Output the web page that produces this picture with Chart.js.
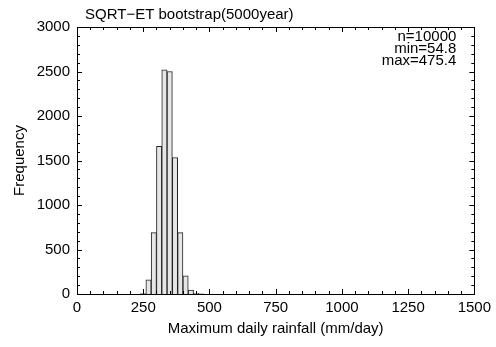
<!DOCTYPE html>
<html>
<head>
<meta charset="utf-8">
<script src="https://cdn.jsdelivr.net/npm/chart.js@4.4.1/dist/chart.umd.min.js"></script>
<style>
  html, body { margin: 0; padding: 0; background: #fff; }
  #wrap { width: 496px; height: 347px; }
</style>
</head>
<body>
<div id="wrap"><canvas id="histChart" width="496" height="347"></canvas></div>
<script>
// histogram bins (left edges, mm/day) and counts
const binStarts = [240, 260, 280, 300, 320, 340, 360, 380, 400, 420, 440, 460];
const binCounts = [5, 160, 690, 1660, 2520, 2500, 1534, 690, 205, 45, 8, 2];
const binWidth = 20;

const xTicks = [0, 250, 500, 750, 1000, 1250, 1500];
const yTicks = [0, 500, 1000, 1500, 2000, 2500, 3000];
const statLines = ['n=10000', 'min=54.8', 'max=475.4'];
const chartTitle = 'SQRT\u2212ET bootstrap(5000year)';

const FONT = '"Liberation Sans", Arial, Helvetica, sans-serif';

// bars sit at bin centres on a linear axis
const histData = binStarts.map((s, i) => ({ x: s + binWidth / 2, y: binCounts[i] }));

// frame box + inward ticks (major and minor) on all four sides, plus title and stats text
const frameTicks = {
    id: 'frameTicks',
    afterDatasetsDraw(chart) {
        const { ctx, chartArea: a, scales: { x, y } } = chart;
        ctx.save();
        ctx.strokeStyle = '#000';
        ctx.lineWidth = 1;
        ctx.strokeRect(Math.round(a.left) + 0.5, Math.round(a.top) + 0.5,
            Math.round(a.right - a.left), Math.round(a.bottom - a.top));

        ctx.beginPath();
        for (let v = 0; v <= 1500; v += 50) {
            const px = Math.round(x.getPixelForValue(v)) + 0.5;
            const len = v % 250 === 0 ? 5 : 3;
            ctx.moveTo(px, a.bottom); ctx.lineTo(px, a.bottom - len);
            ctx.moveTo(px, a.top); ctx.lineTo(px, a.top + len);
        }
        for (let v = 0; v <= 3000; v += 100) {
            const py = Math.round(y.getPixelForValue(v)) + 0.5;
            const len = v % 500 === 0 ? 5 : 3;
            ctx.moveTo(a.left, py); ctx.lineTo(a.left + len, py);
            ctx.moveTo(a.right, py); ctx.lineTo(a.right - len, py);
        }
        ctx.stroke();

        ctx.fillStyle = '#000';
        ctx.font = '15px ' + FONT;
        ctx.textBaseline = 'middle';
        ctx.textAlign = 'left';
        ctx.fillText(chartTitle, a.left + 8, 15);

        ctx.textAlign = 'right';
        statLines.forEach((t, i) => {
            ctx.fillText(t, a.right - 18, a.top + 10 + i * 12);
        });
        ctx.restore();
    }
};

const ctx = document.getElementById('histChart').getContext('2d');
new Chart(ctx, {
    type: 'bar',
    data: {
        datasets: [{
            data: histData,
            backgroundColor: '#e6e6e6',
            borderColor: '#222',
            borderWidth: 1,
            barPercentage: 1,
            categoryPercentage: 1
        }]
    },
    options: {
        responsive: false,
        animation: false,
        layout: { padding: { top: 27, right: 19, left: 0, bottom: 0 } },
        plugins: {
            legend: { display: false },
            tooltip: { enabled: false },
            title: { display: false }
        },
        scales: {
            x: {
                type: 'linear',
                offset: false,
                min: 0,
                max: 1500,
                afterBuildTicks: s => { s.ticks = xTicks.map(v => ({ value: v })); },
                afterFit: s => { s.height = 53; },
                grid: { display: false, drawTicks: false },
                border: { display: false },
                ticks: {
                    color: '#000',
                    padding: 5,
                    maxRotation: 0,
                    callback: v => String(v),
                    font: { family: FONT, size: 15 }
                },
                title: {
                    display: true,
                    text: 'Maximum daily rainfall (mm/day)',
                    color: '#000',
                    padding: { top: 0, bottom: 9 },
                    font: { family: FONT, size: 15 }
                }
            },
            y: {
                min: 0,
                max: 3000,
                afterBuildTicks: s => { s.ticks = yTicks.map(v => ({ value: v })); },
                afterFit: s => { s.width = 77; },
                grid: { display: false, drawTicks: false },
                border: { display: false },
                ticks: {
                    color: '#000',
                    padding: 7,
                    callback: v => String(v),
                    font: { family: FONT, size: 15 }
                },
                title: {
                    display: true,
                    text: 'Frequency',
                    color: '#000',
                    padding: { top: 11, bottom: 0 },
                    font: { family: FONT, size: 15 }
                }
            }
        }
    },
    plugins: [frameTicks]
});
</script>
</body>
</html>
